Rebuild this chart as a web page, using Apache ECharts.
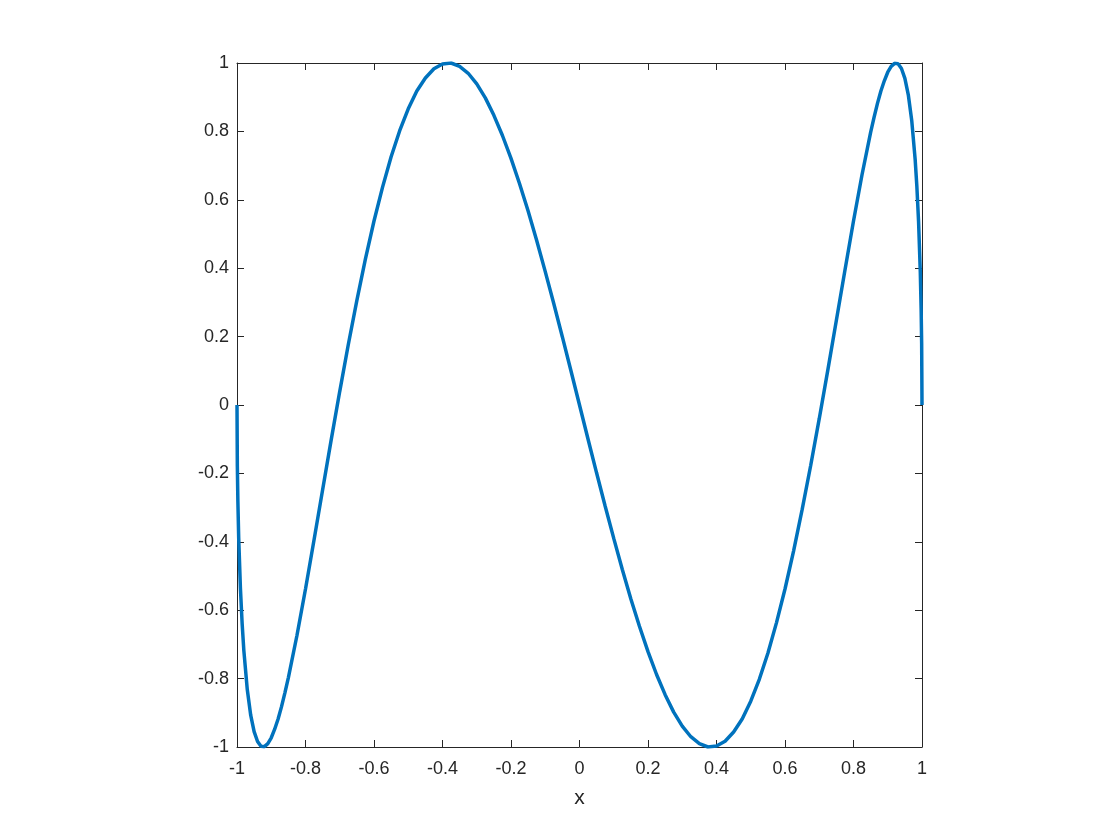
<!DOCTYPE html>
<html>
<head>
<meta charset="utf-8">
<script src="https://cdn.jsdelivr.net/npm/echarts@6/dist/echarts.min.js"></script>
<style>
  html, body { margin: 0; padding: 0; background: #fff; }
  #main { width: 1120px; height: 840px; }
</style>
</head>
<body>
<div id="main"></div>
<script>
// curve samples
var xs = [-1, -0.999, -0.9975, -0.995, -0.99, -0.985, -0.98, -0.97, -0.96, -0.95, -0.94,
  -0.93, -0.92, -0.91, -0.9, -0.89, -0.88, -0.87, -0.86, -0.85, -0.825, -0.8, -0.775,
  -0.75, -0.725, -0.7, -0.675, -0.65, -0.625, -0.6, -0.575, -0.55, -0.525, -0.5, -0.475,
  -0.45, -0.425, -0.4, -0.375, -0.35, -0.325, -0.3, -0.275, -0.25, -0.225, -0.2, -0.175,
  -0.15, -0.125, -0.1, -0.075, -0.05, -0.025, 0,
  0.025, 0.05, 0.075, 0.1, 0.125, 0.15, 0.175, 0.2, 0.225, 0.25, 0.275, 0.3, 0.325,
  0.35, 0.375, 0.4, 0.425, 0.45, 0.475, 0.5, 0.525, 0.55, 0.575, 0.6, 0.625, 0.65,
  0.675, 0.7, 0.725, 0.75, 0.775, 0.8, 0.825, 0.85, 0.86, 0.87, 0.88, 0.89, 0.9, 0.91,
  0.92, 0.93, 0.94, 0.95, 0.96, 0.97, 0.98, 0.985, 0.99, 0.995, 0.9975, 0.999, 1]
var ys = [0, -0.178, -0.279, -0.390, -0.536, -0.639, -0.718, -0.832, -0.907, -0.955, -0.984,
  -0.998, -0.999, -0.990, -0.973, -0.948, -0.918, -0.882, -0.841, -0.797, -0.674, -0.538, -0.394,
  -0.248, -0.102, 0.040, 0.177, 0.306, 0.427, 0.538, 0.637, 0.726, 0.802, 0.866, 0.918,
  0.956, 0.983, 0.997, 1.000, 0.990, 0.970, 0.939, 0.898, 0.847, 0.788, 0.721, 0.647,
  0.567, 0.481, 0.390, 0.296, 0.199, 0.100, 0,
  -0.100, -0.199, -0.296, -0.390, -0.481, -0.567, -0.647, -0.721, -0.788, -0.847, -0.898, -0.939, -0.970,
  -0.990, -1.000, -0.997, -0.983, -0.956, -0.918, -0.866, -0.802, -0.726, -0.637, -0.538, -0.427, -0.306,
  -0.177, -0.040, 0.102, 0.248, 0.394, 0.538, 0.674, 0.797, 0.841, 0.882, 0.918, 0.948, 0.973, 0.990,
  0.999, 0.998, 0.984, 0.955, 0.907, 0.832, 0.718, 0.639, 0.536, 0.390, 0.279, 0.178, 0]
var xTicks = [-1, 1, 0.2]
var yTicks = [-1, 1, 0.2]

var chart = echarts.init(document.getElementById('main'))
var axisColor = '#262626'
var font = 'Liberation Sans, Arial, sans-serif'

var baseAxis = function(t, pos, showLabel, margin) {
  return {
    type: 'value',
    position: pos,
    min: t[0],
    max: t[1],
    interval: t[2],
    axisLine: { show: true, onZero: false, lineStyle: { color: axisColor, width: 1 } },
    axisTick: { show: true, inside: true, length: 7, lineStyle: { color: axisColor, width: 1 } },
    axisLabel: { show: showLabel, color: axisColor, fontSize: 18, fontFamily: font, margin: margin || 10 },
    splitLine: { show: false }
  }
}

var pts = xs.map(function(x, i) { return [x, ys[i]] })

var xBottom = baseAxis(xTicks, 'bottom', true, 13)
xBottom.name = 'x'
xBottom.nameLocation = 'middle'
xBottom.nameGap = 41
xBottom.nameTextStyle = { color: axisColor, fontSize: 21, fontFamily: font }

chart.setOption({
  animation: false,
  backgroundColor: '#fff',
  grid: { left: 237, right: 198, top: 63, bottom: 93, containLabel: false },
  xAxis: [xBottom, baseAxis(xTicks, 'top', false)],
  yAxis: [baseAxis(yTicks, 'left', true, 8), baseAxis(yTicks, 'right', false)],
  series: [{
    type: 'line',
    data: pts,
    showSymbol: false,
    smooth: false,
    lineStyle: { color: '#0072BD', width: 3.5 },
    itemStyle: { color: '#0072BD' }
  }]
})
</script>
</body>
</html>
